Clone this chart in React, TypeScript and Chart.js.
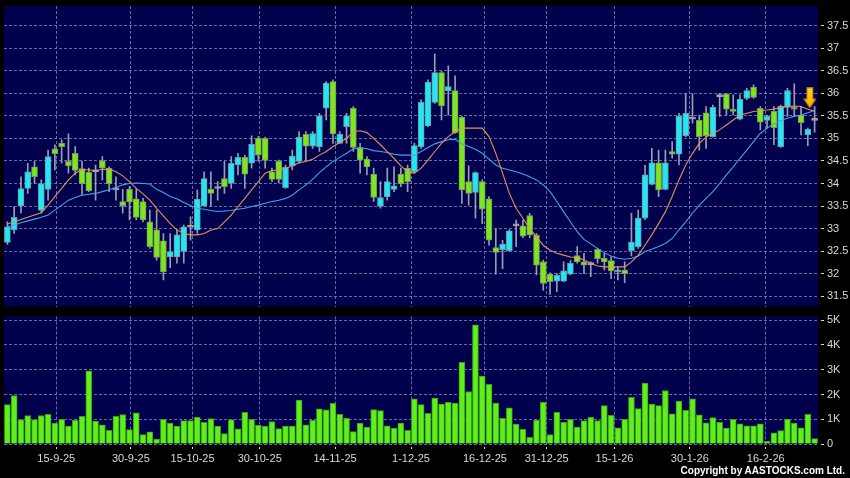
import React, { useEffect, useRef } from 'react';
import { Chart, registerables } from 'chart.js';

Chart.register(...registerables);

// ---------- data ----------
const xTickLabels = ['15-9-25', '30-9-25', '15-10-25', '30-10-25', '14-11-25', '1-12-25', '16-12-25', '31-12-25', '15-1-26', '30-1-26', '16-2-26'];
const xTickPos = [7.2, 18.2, 27.3, 37.2, 48.3, 59.5, 70.4, 79.5, 89.5, 100.6, 111.8];

const opens = [32.69, 32.97, 33.5, 33.89, 34.37, 33.4, 33.87, 34.77, 34.89, 34.49, 34.67, 34.33, 34.25, 34.26, 34.51, 34.34, 33.86, 33.6, 33.87, 33.66, 33.6, 33.15, 32.97, 32.73, 32.37, 32.37, 32.49, 33.03, 32.97, 33.5, 33.87, 33.89, 34.11, 34.0, 34.41, 34.58, 34.45, 35.0, 35.0, 34.26, 34.49, 33.91, 34.39, 34.49, 35.09, 34.83, 34.82, 35.67, 36.26, 34.89, 35.26, 35.67, 34.8, 34.54, 34.21, 33.49, 33.71, 33.87, 34.21, 34.34, 34.26, 34.82, 35.28, 35.8, 36.46, 36.06, 36.06, 35.47, 34.04, 33.8, 34.04, 33.66, 32.58, 32.53, 32.51, 33.06, 33.06, 33.29, 32.85, 32.26, 31.99, 31.83, 31.83, 31.99, 32.4, 32.26, 32.2, 32.54, 32.34, 32.29, 32.04, 32.08, 32.51, 32.6, 33.23, 33.98, 34.46, 33.87, 34.71, 34.65, 35.06, 35.43, 35.4, 35.57, 35.04, 35.93, 35.99, 35.63, 35.43, 35.89, 36.14, 35.67, 35.4, 35.6, 34.82, 35.69, 35.69, 35.52, 35.08, 35.4];
const highs = [33.15, 33.49, 34.15, 34.45, 34.49, 34.08, 34.74, 34.86, 34.97, 35.1, 34.82, 34.49, 34.34, 34.41, 34.6, 34.37, 34.15, 33.87, 33.93, 33.88, 33.67, 33.41, 33.41, 32.89, 32.89, 32.97, 33.08, 33.26, 33.86, 34.26, 34.26, 34.04, 34.49, 34.6, 34.67, 34.63, 35.06, 35.04, 35.03, 34.34, 34.52, 34.41, 34.74, 35.15, 35.15, 35.15, 35.56, 36.26, 36.3, 35.15, 35.56, 35.71, 34.89, 34.6, 34.34, 34.04, 34.34, 34.37, 34.34, 34.41, 34.89, 35.86, 36.3, 36.88, 36.49, 36.61, 36.39, 35.49, 34.39, 34.26, 34.08, 33.71, 32.99, 32.74, 32.98, 33.19, 33.19, 33.34, 32.89, 32.3, 32.02, 32.0, 32.26, 32.29, 32.6, 32.45, 32.26, 32.56, 32.45, 32.37, 32.15, 32.26, 33.34, 33.41, 34.41, 34.78, 34.74, 34.74, 34.93, 35.56, 35.99, 35.99, 35.52, 35.71, 35.74, 36.0, 36.0, 35.97, 35.97, 36.11, 36.19, 35.71, 35.52, 35.71, 35.74, 36.11, 36.21, 35.71, 35.23, 35.71];
const lows = [32.65, 32.89, 33.34, 33.78, 34.0, 33.34, 33.63, 34.3, 34.45, 34.23, 34.19, 33.74, 33.82, 33.63, 34.08, 33.82, 33.63, 33.34, 33.19, 33.19, 33.15, 32.56, 32.3, 31.86, 32.13, 32.23, 32.23, 32.74, 32.89, 33.49, 33.49, 33.63, 33.78, 33.89, 34.19, 33.89, 34.34, 34.49, 34.34, 34.04, 34.02, 33.89, 34.3, 34.45, 34.51, 34.78, 34.71, 35.41, 34.89, 34.89, 34.89, 34.71, 34.23, 34.19, 33.6, 33.45, 33.63, 33.82, 33.93, 33.82, 34.23, 34.78, 35.26, 35.78, 35.41, 35.52, 35.11, 33.56, 33.52, 33.23, 33.11, 32.63, 31.99, 32.11, 32.49, 32.6, 32.8, 32.8, 31.97, 31.63, 31.54, 31.6, 31.82, 31.97, 32.23, 32.0, 31.93, 32.23, 32.08, 31.89, 31.86, 31.8, 32.39, 32.56, 33.2, 33.97, 33.71, 33.86, 34.56, 34.41, 35.04, 35.34, 34.74, 34.78, 35.03, 35.49, 35.52, 35.52, 35.41, 35.86, 35.89, 35.19, 35.23, 34.86, 34.8, 35.49, 35.49, 35.08, 34.84, 35.14];
const closes = [33.04, 33.25, 33.89, 34.26, 34.15, 34.0, 34.6, 34.66, 34.82, 34.39, 34.29, 33.99, 33.84, 34.26, 34.34, 33.99, 33.86, 33.51, 33.59, 33.25, 33.19, 32.6, 32.36, 32.04, 32.49, 32.86, 33.04, 33.03, 33.65, 34.11, 33.78, 33.89, 33.93, 34.45, 34.58, 34.21, 34.87, 34.63, 34.51, 34.09, 34.09, 34.36, 34.61, 35.03, 34.83, 35.11, 35.5, 36.23, 35.1, 35.09, 35.5, 34.8, 34.52, 34.37, 33.69, 33.69, 34.04, 33.95, 33.99, 34.04, 34.84, 35.8, 36.25, 36.46, 35.72, 36.15, 35.13, 33.86, 33.78, 34.24, 33.43, 32.74, 32.47, 32.65, 32.95, 33.06, 32.83, 32.86, 32.19, 31.78, 31.82, 31.96, 32.06, 32.23, 32.26, 32.19, 32.2, 32.33, 32.26, 32.06, 32.05, 32.0, 32.7, 33.23, 34.19, 34.46, 33.86, 34.46, 34.65, 35.49, 35.56, 35.43, 35.04, 35.06, 35.69, 35.93, 35.65, 35.6, 35.87, 36.06, 35.91, 35.36, 35.49, 35.24, 35.72, 36.06, 35.65, 35.35, 35.2, 35.4];
const volumes = [1590, 1960, 990, 1150, 990, 1150, 1200, 850, 1000, 720, 960, 1120, 2960, 930, 770, 550, 1120, 1190, 580, 1260, 380, 490, 200, 1000, 850, 720, 950, 950, 1090, 880, 1030, 720, 420, 990, 610, 1280, 1000, 760, 720, 910, 620, 720, 720, 1770, 770, 960, 1420, 1380, 1640, 1200, 1040, 500, 840, 680, 1390, 1350, 730, 640, 850, 550, 1820, 1590, 1240, 1850, 1610, 1680, 1650, 3300, 2120, 4810, 2740, 2410, 1650, 1040, 1460, 800, 590, 270, 970, 1680, 380, 1280, 880, 1000, 680, 950, 1080, 950, 1550, 1160, 650, 1000, 1890, 1430, 2460, 1610, 1550, 2160, 1220, 1730, 1360, 1820, 1180, 860, 1070, 880, 640, 1000, 810, 730, 730, 810, 110, 450, 540, 1010, 840, 650, 1200, 220];
const maShort = [33.1, 33.15, 33.2, 33.25, 33.3, 33.35, 33.52, 33.71, 33.89, 34.08, 34.23, 34.31, 34.3, 34.29, 34.31, 34.32, 34.26, 34.17, 34.04, 33.89, 33.77, 33.63, 33.45, 33.28, 33.11, 32.97, 32.89, 32.86, 32.86, 32.89, 32.97, 33.0, 33.15, 33.3, 33.49, 33.67, 33.86, 34.04, 34.23, 34.29, 34.3, 34.34, 34.39, 34.46, 34.49, 34.54, 34.63, 34.71, 34.82, 34.91, 35.0, 35.15, 35.17, 35.13, 35.0, 34.86, 34.71, 34.56, 34.39, 34.26, 34.23, 34.34, 34.52, 34.71, 34.89, 35.04, 35.15, 35.23, 35.23, 35.23, 35.23, 35.04, 34.67, 34.23, 33.78, 33.45, 33.23, 33.0, 32.82, 32.63, 32.52, 32.45, 32.41, 32.37, 32.36, 32.3, 32.23, 32.17, 32.15, 32.15, 32.15, 32.15, 32.26, 32.41, 32.63, 32.86, 33.11, 33.37, 33.71, 34.08, 34.41, 34.67, 34.89, 35.03, 35.11, 35.19, 35.3, 35.41, 35.52, 35.56, 35.6, 35.62, 35.63, 35.65, 35.69, 35.71, 35.72, 35.71, 35.65, 35.61];
const maLong = [33.04, 33.08, 33.13, 33.17, 33.21, 33.25, 33.3, 33.41, 33.52, 33.63, 33.69, 33.74, 33.76, 33.78, 33.82, 33.86, 33.91, 33.97, 34.0, 34.01, 34.0, 33.99, 33.87, 33.8, 33.71, 33.66, 33.58, 33.51, 33.45, 33.43, 33.4, 33.38, 33.39, 33.4, 33.43, 33.45, 33.49, 33.52, 33.56, 33.6, 33.63, 33.67, 33.74, 33.86, 33.97, 34.09, 34.24, 34.37, 34.49, 34.58, 34.67, 34.77, 34.8, 34.77, 34.73, 34.71, 34.69, 34.65, 34.63, 34.63, 34.63, 34.71, 34.8, 34.88, 34.93, 34.97, 34.98, 34.88, 34.82, 34.76, 34.67, 34.54, 34.41, 34.34, 34.3, 34.26, 34.21, 34.15, 34.08, 33.97, 33.82, 33.6, 33.37, 33.15, 32.93, 32.76, 32.66, 32.56, 32.46, 32.39, 32.34, 32.32, 32.34, 32.39, 32.49, 32.54, 32.6, 32.67, 32.78, 32.97, 33.15, 33.34, 33.52, 33.67, 33.82, 34.0, 34.19, 34.37, 34.56, 34.74, 34.93, 35.11, 35.23, 35.32, 35.4, 35.45, 35.49, 35.52, 35.57, 35.62];
const priceTicks = [31.5, 32, 32.5, 33, 33.5, 34, 34.5, 35, 35.5, 36, 36.5, 37, 37.5];
const volumeTicks = [0, 1000, 2000, 3000, 4000, 5000];
const signalIndex = 118.3;
const signalPrice = 35.9;

// ---------- styles ----------
const FONT = '"Liberation Sans", Arial, sans-serif';
const PANEL = '#00004c';
const GRID = 'rgba(125,135,190,0.8)';
const TICK = '#d8d8d8';
const UP = '#22e6f4';
const DOWN = '#7ce61e';
const FLAT = '#a0a8b0';
const X_MIN = -0.5;
const X_MAX = 119.5;

const panelBg = {
  id: 'panelBg',
  beforeDraw(chart: any) {
    const { ctx, chartArea: a } = chart;
    ctx.save();
    ctx.fillStyle = PANEL;
    ctx.fillRect(a.left, a.top, a.right - a.left, a.bottom - a.top);
    ctx.restore();
  },
};

function makeArrow(): HTMLCanvasElement {
  const c = document.createElement('canvas');
  c.width = 13;
  c.height = 21;
  const g = c.getContext('2d')!;
  const grad = g.createLinearGradient(0, 0, 0, 21);
  grad.addColorStop(0, '#ffd23a');
  grad.addColorStop(0.55, '#ffc400');
  grad.addColorStop(1, '#f0a800');
  g.beginPath();
  g.moveTo(3.5, 0.5);
  g.lineTo(9.5, 0.5);
  g.lineTo(9.5, 11.5);
  g.lineTo(12.5, 11.5);
  g.lineTo(6.5, 20.5);
  g.lineTo(0.5, 11.5);
  g.lineTo(3.5, 11.5);
  g.closePath();
  g.fillStyle = grad;
  g.fill();
  g.strokeStyle = '#b87a00';
  g.lineWidth = 1;
  g.stroke();
  return c;
}

const idx = opens.map((_, i) => i);

function yAxisCommon(ticks: number[], fmt: (v: number) => string) {
  return {
    position: 'right' as const,
    border: { display: false, dash: [3, 2] },
    grid: {
      color: GRID,
      lineWidth: 1,
      tickLength: 6,
      tickColor: TICK,
      tickBorderDash: [3, 3],
      tickBorderDashOffset: 3,
    },
    ticks: {
      color: TICK,
      padding: 3,
      font: { family: FONT, size: 11 },
      callback: (v: any) => fmt(Number(v)),
    },
    afterBuildTicks: (s: any) => {
      s.ticks = ticks.map((v) => ({ value: v }));
    },
    afterFit: (s: any) => {
      s.width = 32;
      s.paddingTop = 0;
      s.paddingBottom = 0;
    },
  };
}

function xAxisCommon(showLabels: boolean) {
  return {
    type: 'linear' as const,
    min: X_MIN,
    max: X_MAX,
    offset: false,
    border: { display: false, dash: [3, 2] },
    grid: {
      offset: false,
      color: GRID,
      lineWidth: 1,
      drawTicks: showLabels,
      tickLength: 5,
      tickColor: TICK,
      tickBorderDash: [3, 3],
      tickBorderDashOffset: 3,
    },
    ticks: {
      display: showLabels,
      color: TICK,
      padding: 3,
      maxRotation: 0,
      autoSkip: false,
      font: { family: FONT, size: 11 },
      callback: (v: any) => {
        const k = xTickPos.indexOf(Number(v));
        return k >= 0 ? xTickLabels[k] : '';
      },
    },
    afterBuildTicks: (s: any) => {
      s.ticks = xTickPos.map((v) => ({ value: v }));
    },
    afterFit: (s: any) => {
      s.height = showLabels ? 34 : 0;
      s.paddingLeft = 0;
      s.paddingRight = 0;
    },
  };
}

export default function App() {
  const priceRef = useRef<HTMLCanvasElement>(null);
  const volRef = useRef<HTMLCanvasElement>(null);

  useEffect(() => {
    const arrow = makeArrow();
    const bodyColors = idx.map((i) => (closes[i] > opens[i] ? UP : closes[i] < opens[i] ? DOWN : FLAT));
    const bodyBorders = idx.map((i) => (closes[i] > opens[i] ? '#6e9ca4' : closes[i] < opens[i] ? '#78985a' : '#a0a8b0'));

    const priceChart = new Chart(priceRef.current!, {
      type: 'bar',
      data: {
        datasets: [
          {
            type: 'scatter',
            data: [{ x: signalIndex, y: signalPrice }],
            pointStyle: arrow as any,
            pointRadius: 6,
            order: 0,
          } as any,
          {
            type: 'line',
            data: idx.map((i) => ({ x: i, y: maShort[i] })),
            borderColor: '#e6915c',
            borderWidth: 1.1,
            pointRadius: 0,
            tension: 0,
            order: 1,
          },
          {
            type: 'line',
            data: idx.map((i) => ({ x: i, y: maLong[i] })),
            borderColor: '#3ea6ea',
            borderWidth: 1.1,
            pointRadius: 0,
            tension: 0,
            order: 1,
          },
          {
            type: 'bar',
            data: idx.map((i) => ({ x: i, y: [opens[i], closes[i]] })),
            backgroundColor: bodyColors,
            borderColor: bodyBorders,
            borderWidth: 1,
            borderSkipped: false,
            barThickness: 6,
            minBarLength: 2,
            grouped: false,
            order: 2,
          } as any,
          {
            type: 'bar',
            data: idx.map((i) => ({ x: i, y: [lows[i], highs[i]] })),
            backgroundColor: '#9a9cb0',
            borderWidth: 0,
            barThickness: 1,
            grouped: false,
            order: 3,
          } as any,
        ],
      },
      options: {
        animation: false,
        responsive: false,
        maintainAspectRatio: false,
        layout: { autoPadding: false, padding: { top: 6, left: 4, right: 0, bottom: 3.5 } } as any,
        plugins: { legend: { display: false }, tooltip: { enabled: false } },
        scales: {
          x: xAxisCommon(false) as any,
          y: {
            ...yAxisCommon(priceTicks, (v) => String(v)),
            min: 31.27,
            max: 37.94,
          } as any,
        },
      },
      plugins: [panelBg],
    });

    const volChart = new Chart(volRef.current!, {
      type: 'bar',
      data: {
        datasets: [
          {
            data: idx.map((i) => ({ x: i, y: volumes[i] })),
            backgroundColor: '#5ff01c',
            borderColor: '#3c9c14',
            borderWidth: 1,
            borderSkipped: 'bottom',
            barThickness: 6,
            grouped: false,
          } as any,
        ],
      },
      options: {
        animation: false,
        responsive: false,
        maintainAspectRatio: false,
        layout: { autoPadding: false, padding: { top: 10.5, left: 4, right: 0, bottom: 0 } } as any,
        plugins: { legend: { display: false }, tooltip: { enabled: false } },
        scales: {
          x: xAxisCommon(true) as any,
          y: {
            ...yAxisCommon(volumeTicks, (v) => (v === 0 ? '0' : v / 1000 + 'K')),
            min: 0,
            max: 5150,
          } as any,
        },
      },
      plugins: [panelBg],
    });

    return () => {
      priceChart.destroy();
      volChart.destroy();
    };
  }, []);

  return (
    <div style={{ position: 'fixed', left: 0, top: 0, width: 850, height: 478, background: '#000', overflow: 'hidden' }}>
      <div style={{ position: 'absolute', left: 0, top: 0, width: 850, height: 310 }}>
        <canvas ref={priceRef} width={850} height={310} style={{ width: 850, height: 310, display: 'block' }} />
      </div>
      <div style={{ position: 'absolute', left: 0, top: 306, width: 850, height: 172 }}>
        <canvas ref={volRef} width={850} height={172} style={{ width: 850, height: 172, display: 'block' }} />
      </div>
      <div
        style={{
          position: 'absolute',
          right: 5,
          top: 465,
          color: '#fff',
          fontFamily: FONT,
          fontWeight: 'bold',
          fontSize: 10,
          lineHeight: '12px',
          whiteSpace: 'nowrap',
        }}
      >
        Copyright by AASTOCKS.com Ltd.
      </div>
    </div>
  );
}
